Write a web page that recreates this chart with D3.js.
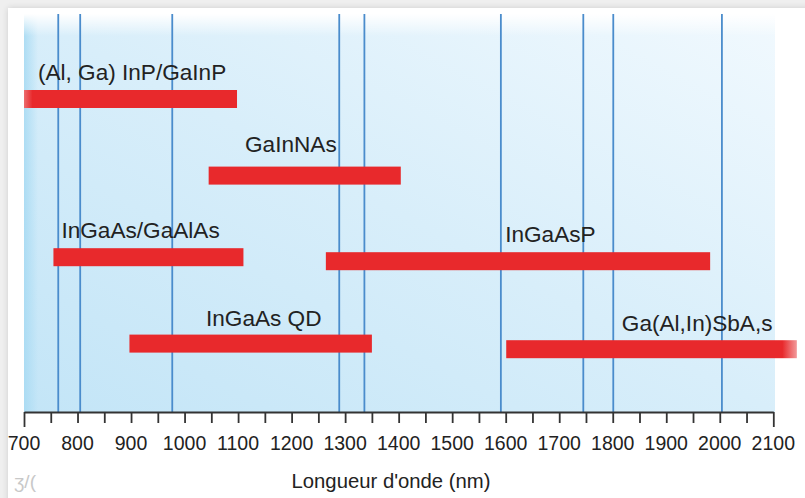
<!DOCTYPE html>
<html>
<head>
<meta charset="utf-8">
<script src="https://cdn.jsdelivr.net/npm/d3@7"></script>
<style>
  html, body { margin: 0; padding: 0; background: #efefef; }
  svg { display: block; }
</style>
</head>
<body>
<svg id="chart" width="805" height="498"></svg>
<script>
// ---- data ----
const materials = ["(Al, Ga) InP/GaInP", "GaInNAs", "InGaAs/GaAlAs", "InGaAsP", "InGaAs QD", "Ga(Al,In)SbA,s"];
const rangeStart = [700, 1045, 755, 1264, 897, 1601];
const rangeEnd   = [1098, 1404, 1110, 1982, 1350, 2144];
const barLevel   = [78.25, 59.1, 38.7, 37.7, 17.1, 15.7];
const labelStart = [726, 1113, 770, 1599, 1040, 1817];
const labelLevel = [83, 65, 43.6, 42.4, 21.5, 20.3];
const refLines   = [764, 805, 977, 1289, 1336, 1591, 1745, 1801, 2004];
const majorTicks = [700, 800, 900, 1000, 1100, 1200, 1300, 1400, 1500, 1600, 1700, 1800, 1900, 2000, 2100];
const minorTicks = [750, 850, 950, 1050, 1150, 1250, 1350, 1450, 1550, 1650, 1750, 1850, 1950, 2050];
const xTitle = "Longueur d'onde (nm)";

// ---- layout ----
const svg = d3.select("#chart");
const x = d3.scaleLinear().domain([700, 2100]).range([24, 773.3]);
const y = d3.scaleLinear().domain([0, 100]).range([412, 12]);
const barH = 18;
const panelTop = 14, panelBottom = 412, panelRight = 775;

const defs = svg.append("defs");
const sh = defs.append("filter").attr("id", "shadow").attr("x", "-5%").attr("y", "-5%").attr("width", "110%").attr("height", "110%");
sh.append("feGaussianBlur").attr("in", "SourceAlpha").attr("stdDeviation", 3);
sh.append("feComponentTransfer").append("feFuncA").attr("type", "linear").attr("slope", 0.15);
const m = sh.append("feMerge"); m.append("feMergeNode"); m.append("feMergeNode").attr("in", "SourceGraphic");

const bg = defs.append("linearGradient").attr("id", "bg").attr("x1", "0").attr("y1", "1").attr("x2", "1").attr("y2", "0");
bg.append("stop").attr("offset", "0").attr("stop-color", "#c3e5f7");
bg.append("stop").attr("offset", "0.5").attr("stop-color", "#d8eefa");
bg.append("stop").attr("offset", "1").attr("stop-color", "#f1f9fe");
const leftEdge = defs.append("linearGradient").attr("id", "leftEdge");
leftEdge.append("stop").attr("offset", "0").attr("stop-color", "#a9dbf3").attr("stop-opacity", 0.9);
leftEdge.append("stop").attr("offset", "1").attr("stop-color", "#a9dbf3").attr("stop-opacity", 0);
const topFade = defs.append("linearGradient").attr("id", "topFade").attr("x1", 0).attr("y1", 0).attr("x2", 0).attr("y2", 1);
topFade.append("stop").attr("offset", "0").attr("stop-color", "#ffffff").attr("stop-opacity", 1);
topFade.append("stop").attr("offset", "1").attr("stop-color", "#ffffff").attr("stop-opacity", 0);
const fadeL = defs.append("linearGradient").attr("id", "fadeL");
fadeL.append("stop").attr("offset", "0").attr("stop-color", "#ec6d6f");
fadeL.append("stop").attr("offset", "0.04").attr("stop-color", "#e8292c");
fadeL.append("stop").attr("offset", "1").attr("stop-color", "#e8292c");
const fadeR = defs.append("linearGradient").attr("id", "fadeR");
fadeR.append("stop").attr("offset", "0").attr("stop-color", "#e8292c");
fadeR.append("stop").attr("offset", "0.95").attr("stop-color", "#e8292c");
fadeR.append("stop").attr("offset", "1").attr("stop-color", "#f29a9b");

// card
svg.append("rect").attr("x", 8).attr("y", 8).attr("width", 820).attr("height", 520)
  .attr("fill", "#ffffff").attr("filter", "url(#shadow)");

// panel
svg.append("rect").attr("x", x(700)).attr("y", panelTop).attr("width", panelRight - x(700)).attr("height", panelBottom - panelTop).attr("fill", "url(#bg)");
svg.append("rect").attr("x", x(700)).attr("y", panelTop).attr("width", 14).attr("height", panelBottom - panelTop).attr("fill", "url(#leftEdge)");
svg.append("rect").attr("x", x(700)).attr("y", panelTop).attr("width", panelRight - x(700)).attr("height", 22).attr("fill", "url(#topFade)");

// reference lines
svg.append("g").selectAll("line").data(refLines).join("line")
  .attr("x1", d => x(d)).attr("x2", d => x(d))
  .attr("y1", panelTop).attr("y2", panelBottom)
  .attr("stroke", "#4a8ccc").attr("stroke-width", 1.8);

// bars
svg.append("g").selectAll("rect").data(materials).join("rect")
  .attr("x", (d, i) => x(rangeStart[i]))
  .attr("width", (d, i) => x(rangeEnd[i]) - x(rangeStart[i]))
  .attr("y", (d, i) => y(barLevel[i]) - barH / 2)
  .attr("height", barH)
  .attr("fill", (d, i) => i === 0 ? "url(#fadeL)" : (i === 5 ? "url(#fadeR)" : "#e8292c"));

// labels
svg.append("g").selectAll("text").data(materials).join("text")
  .attr("x", (d, i) => x(labelStart[i]))
  .attr("y", (d, i) => y(labelLevel[i]))
  .attr("font-family", "'Liberation Sans', Arial, sans-serif")
  .attr("font-size", 22.6)
  .attr("fill", "#222222")
  .text(d => d);

// axis
const axisG = svg.append("g").attr("transform", `translate(0,${panelBottom})`);
axisG.call(d3.axisBottom(x).tickValues(majorTicks.concat(minorTicks)).tickSize(11).tickSizeOuter(0).tickFormat(""));
axisG.select(".domain").attr("stroke", "#333").attr("stroke-width", 2);
axisG.selectAll(".tick line").attr("stroke", "#333").attr("stroke-width", 1.8)
  .attr("y2", d => (d === 700 || d === 2100) ? 15 : 11);

svg.append("g").selectAll("text").data(majorTicks).join("text")
  .attr("x", d => x(d)).attr("y", 450)
  .attr("text-anchor", "middle")
  .attr("font-family", "'Liberation Sans Narrow', 'Arial Narrow', sans-serif")
  .attr("font-size", 19.5)
  .attr("fill", "#222222")
  .text(d => d);

svg.append("text").attr("x", 391).attr("y", 488).attr("text-anchor", "middle")
  .attr("font-family", "'Liberation Sans', Arial, sans-serif").attr("font-size", 20.3)
  .attr("fill", "#222222").text(xTitle);

svg.append("text").attr("x", 14).attr("y", 488)
  .attr("font-family", "'Liberation Sans Narrow', 'Arial Narrow', sans-serif").attr("font-size", 19)
  .attr("fill", "#c8c8c8").text("\u0292/(");
</script>
</body>
</html>
